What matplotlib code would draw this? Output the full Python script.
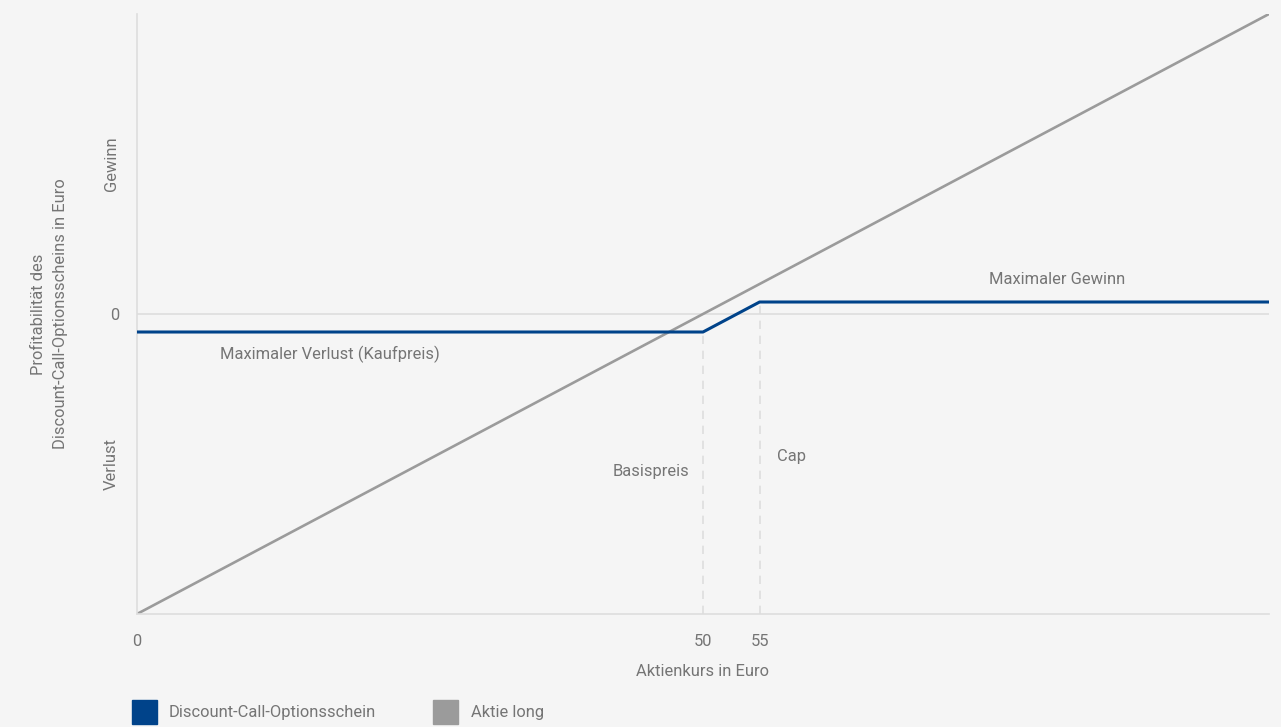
import matplotlib
matplotlib.use("Agg")
from matplotlib import pyplot as plt
from matplotlib.patches import Patch

# data
stock_x = [0, 100]
stock_profit = [-50, 50]
call_x = [0, 50, 55, 100]
call_profit = [-3, -3, 2, 2]
strike = 50
cap = 55
x_ticks = [0, 50, 55]
y_ticks = [25, 0, -25]
y_ticklabels = ["Gewinn", "0", "Verlust"]
legend_labels = ["Discount-Call-Optionsschein", "Aktie long"]

BLUE = "#00438a"
GRAY = "#9b9b9b"
TEXT = "#757575"
GRID = "#dddddd"
BG = "#f5f5f5"
FS = 11.9

plt.rcParams["font.family"] = ["Roboto", "DejaVu Sans"]

fig = plt.figure(figsize=(12.81, 7.27), dpi=100, facecolor=BG)
ax = fig.add_axes([137 / 1281, 1 - 614 / 727, (1269 - 137) / 1281, 600 / 727])
ax.set_facecolor(BG)

ax.axhline(0, color=GRID, lw=1.2, zorder=1)
ax.plot([strike, strike], [-50, call_profit[1]], color=GRID, lw=1.2, ls=(0, (5, 4)), zorder=1)
ax.plot([cap, cap], [-50, call_profit[2]], color=GRID, lw=1.2, ls=(0, (5, 4)), zorder=1)

ax.plot(stock_x, stock_profit, color=GRAY, lw=1.9, zorder=2)
ax.plot(call_x, call_profit, color=BLUE, lw=2.2, zorder=3)

ax.set_xlim(0, 100)
ax.set_ylim(-50, 50)

for side in ["top", "right"]:
    ax.spines[side].set_visible(False)
for side in ["left", "bottom"]:
    ax.spines[side].set_color(GRID)
    ax.spines[side].set_linewidth(1.2)

ax.set_xticks(x_ticks)
ax.set_xticklabels([str(t) for t in x_ticks])
ax.set_yticks(y_ticks)
ax.set_yticklabels(y_ticklabels)
ax.tick_params(axis="both", length=0, labelsize=FS, labelcolor=TEXT)
ax.tick_params(axis="x", pad=14.5)
ax.tick_params(axis="y", pad=13)
for lbl in ax.get_yticklabels():
    if lbl.get_text() != "0":
        lbl.set_rotation(90)
        lbl.set_va("center")

ax.set_xlabel("Aktienkurs in Euro", fontsize=FS, color=TEXT, labelpad=10.5)
ax.set_ylabel("Profitabilität des\nDiscount-Call-Optionsscheins in Euro",
              fontsize=FS, color=TEXT, labelpad=26, linespacing=1.55)

ax.text(7.3, -6.7, "Maximaler Verlust (Kaufpreis)", fontsize=FS, color=TEXT, va="center", ha="left")
ax.text(75.3, 5.7, "Maximaler Gewinn", fontsize=FS, color=TEXT, va="center", ha="left")
ax.text(48.8, -26.3, "Basispreis", fontsize=FS, color=TEXT, va="center", ha="right")
ax.text(56.5, -23.7, "Cap", fontsize=FS, color=TEXT, va="center", ha="left")

handles = [Patch(color=BLUE), Patch(color=GRAY)]
fig.legend(handles, legend_labels, loc="lower left", bbox_to_anchor=(117 / 1281, -12 / 727),
           ncol=2, frameon=False, fontsize=FS, labelcolor=TEXT,
           handlelength=1.5, handleheight=1.85, handletextpad=0.75, columnspacing=3.45)

fig.savefig("out.png", dpi=100, facecolor=BG)
